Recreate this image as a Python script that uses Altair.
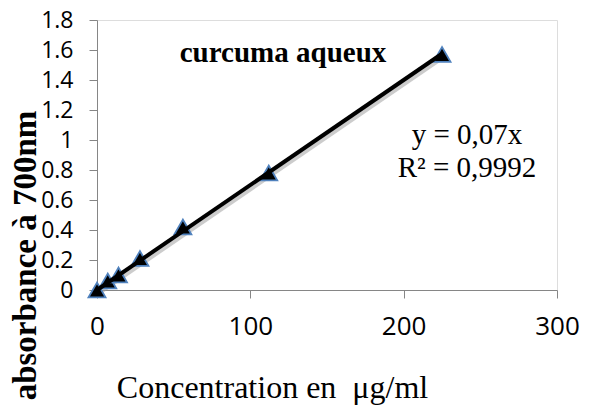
import altair as alt
import pandas as pd

# Data
conc = [0, 7, 14, 28, 56, 112, 225]
absorb = [0, 0.06, 0.10, 0.21, 0.42, 0.78, 1.57]
trend_x = [0, 225]
trend_y = [0, 1.575]
x_ticks = [0, 100, 200, 300]
y_ticks = [0, 0.2, 0.4, 0.6, 0.8, 1.0, 1.2, 1.4, 1.6, 1.8]

pts = pd.DataFrame({"x": conc, "y": absorb})
trend = pd.DataFrame({"x": trend_x, "y": trend_y})
one = pd.DataFrame({"k": [0]})

AX = "#868686"

xscale = alt.Scale(domain=[0, 300], nice=False, zero=True)
yscale = alt.Scale(domain=[0, 1.8], nice=False, zero=True)

x_axis = alt.Axis(
    values=x_ticks, grid=False, domainColor=AX, tickColor=AX, tickSize=8,
    labelFont="Open Sans", labelFontSize=26, labelColor="black", labelPadding=15,
    labelFlush=False, labelOverlap=False,
    title="Concentration en \u00a0\u03bcg/ml", titleFont="Liberation Serif",
    titleFontSize=32, titleFontWeight="normal", titleColor="black",
    titleX=175, titleY=107, titleBaseline="alphabetic", titleAnchor="start",
    titleAlign="center",
)
y_axis = alt.Axis(
    values=y_ticks, format="~g", grid=False, domainColor=AX, tickColor=AX, tickSize=8,
    labelFont="Open Sans", labelFontSize=23, labelColor="black", labelPadding=16,
    labelFlush=False, labelOverlap=False,
    title="absorbance à 700nm", titleFont="Liberation Serif", titleFontSize=33,
    titleFontWeight="bold", titleColor="black", titleAngle=-90,
    titleX=-62, titleY=235, titleBaseline="alphabetic", titleAlign="center",
    titleAnchor="start",
)

X = alt.X("x:Q", scale=xscale, axis=x_axis)
Y = alt.Y("y:Q", scale=yscale, axis=y_axis)

shadow = alt.Chart(trend).mark_line(
    color="#999999", strokeWidth=4, opacity=0.5, xOffset=2, yOffset=3
).encode(x=X, y=Y)

markers = alt.Chart(pts).mark_point(
    shape="triangle-up", filled=True, fill="black", stroke="#4F81BD",
    strokeWidth=1.8, size=290, opacity=1,
).encode(x=X, y=Y)

line = alt.Chart(trend).mark_line(color="black", strokeWidth=4).encode(x=X, y=Y)

title_txt = alt.Chart(one).mark_text(
    text="curcuma aqueux", font="Liberation Serif", fontSize=29, fontWeight="bold",
    color="black", align="center", baseline="alphabetic",
).encode(x=alt.value(186), y=alt.value(42))

eq1 = alt.Chart(one).mark_text(
    text="y = 0,07x", font="Liberation Serif", fontSize=29, fontWeight="normal",
    color="black", align="center", baseline="alphabetic",
).encode(x=alt.value(370), y=alt.value(124))

eq2 = alt.Chart(one).mark_text(
    text="R² = 0,9992", font="Liberation Serif", fontSize=29, fontWeight="normal",
    color="black", align="center", baseline="alphabetic",
).encode(x=alt.value(370), y=alt.value(157))

chart = alt.layer(shadow, markers, line, title_txt, eq1, eq2).properties(
    width=460, height=270,
    autosize=alt.AutoSizeParams(type="none"),
    padding={"left": 97, "top": 20, "right": 40, "bottom": 118},
).configure_view(stroke=None).configure(background="white")

chart.save("out.html", embed_options={"renderer": "svg", "actions": False})
